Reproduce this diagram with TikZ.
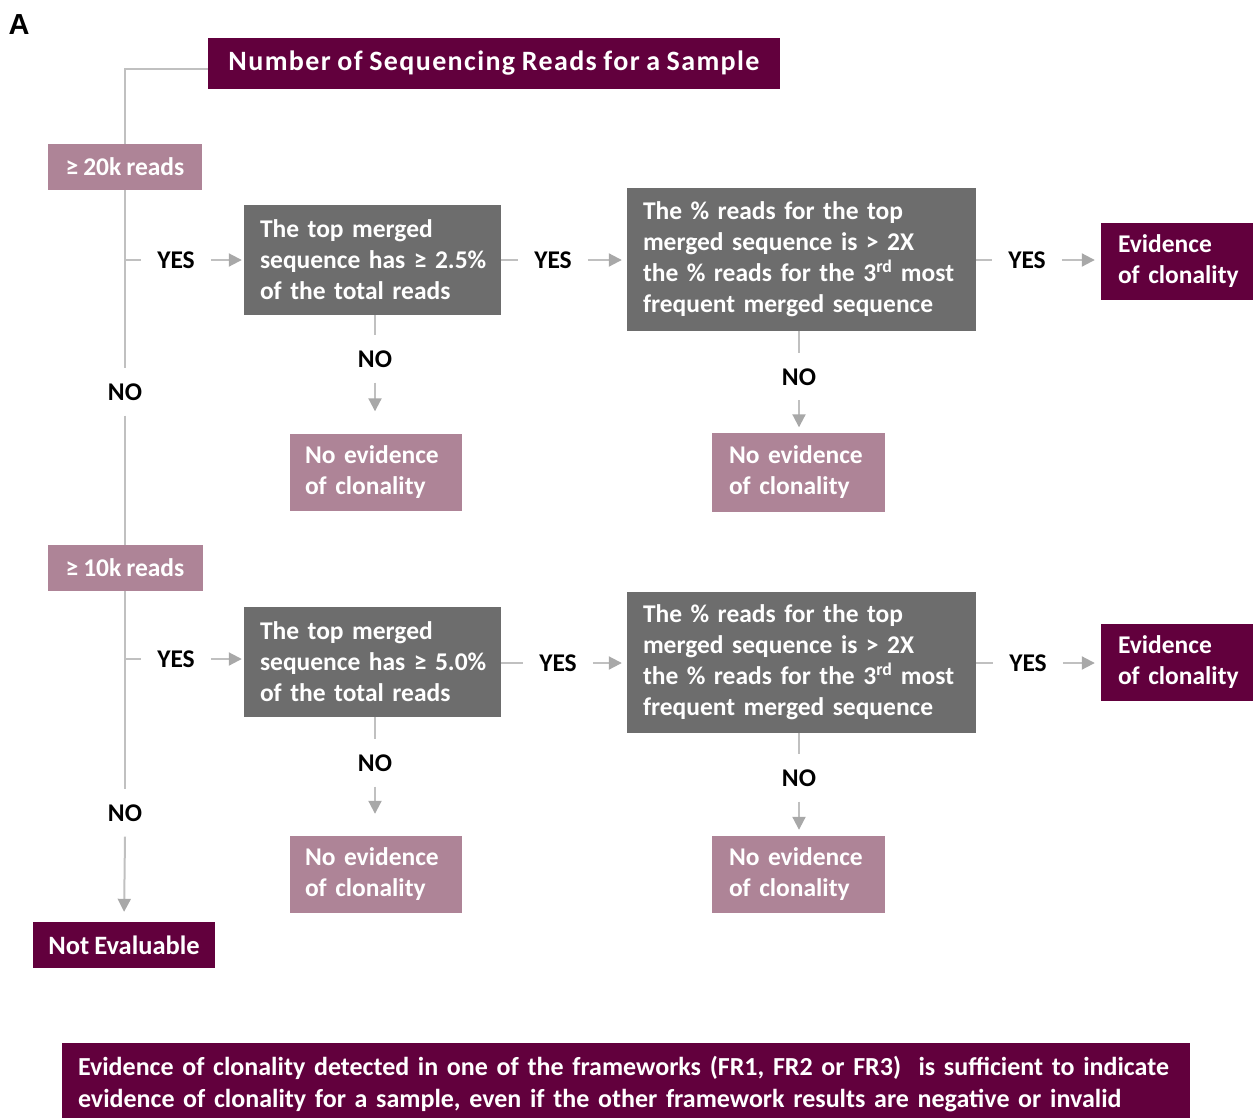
\documentclass[tikz,border=0pt]{standalone}
\usepackage{fontspec}
\setmainfont{Carlito}[WordSpace=0.85]
\newfontfamily\titlefont{Carlito}[LetterSpace=5, WordSpace=0.85]
\newfontfamily\panelfont{Liberation Sans}
\usetikzlibrary{arrows.meta}

% keep a line of box text together
\newcommand\oneline[1]{\mbox{#1}}

\definecolor{plum}{HTML}{62003D}
\definecolor{mauve}{HTML}{AE8497}
\definecolor{slate}{HTML}{6D6D6D}
\definecolor{wire}{HTML}{C0C0C0}
\definecolor{tipgray}{HTML}{A8A8A8}

\tikzset{
  boxtext/.style={font=\bfseries\fontsize{25.5}{31}\selectfont, text=white},
  plumbox/.style={boxtext, fill=plum, inner ysep=0pt},
  mauvebox/.style={boxtext, fill=mauve, inner ysep=0pt},
  slatebox/.style={boxtext, fill=slate, inner ysep=0pt},
  leftbox/.style n args={3}{minimum width=#1pt, minimum height=#2pt,
    inner xsep=#3pt, text width=#1pt-2*#3pt, align=left},
  lbl/.style={font=\bfseries\fontsize{25.5}{25.5}\selectfont, text=black,
    text height=17pt, text depth=0pt},
  yeslbl/.style={lbl, inner xsep=16pt, inner ysep=0pt},
  nolbl/.style={lbl, inner xsep=0pt, inner ysep=15pt},
  conn/.style={draw=wire, line width=2pt},
  arr/.style={conn, -{Triangle[length=13pt, width=13pt, color=tipgray, fill=tipgray]}},
}

\begin{document}
\begin{tikzpicture}[x=1pt, y=-1pt]
\useasboundingbox (0,0) rectangle (1256,1117);

% panel letter
\node[font=\panelfont\bfseries\fontsize{29}{29}\selectfont, inner sep=0pt] (panel) at (19,25) {A};

% title
\node[plumbox, font=\titlefont\bfseries\fontsize{28}{28}\selectfont, minimum width=572pt, minimum height=51pt]
  (title) at (494,63.5) {Number of Sequencing Reads for a Sample};

% read-depth thresholds and the final outcome on the left
\node[mauvebox, minimum width=154pt, minimum height=46pt] (r20) at (125,167) {≥ 20k reads};
\node[mauvebox, minimum width=155pt, minimum height=46pt] (r10) at (125,568) {≥ 10k reads};
\node[plumbox, font=\bfseries\fontsize{26.5}{26.5}\selectfont, minimum width=182pt, minimum height=46pt] (ne) at (124,945) {Not Evaluable};

% ---------------- first tier (>= 20k reads) ----------------
\node[slatebox, leftbox={257}{110}{16}] (a1) at (372.5,260)
  {\oneline{The top merged}\\ \oneline{sequence has ≥ 2.5\%}\\ \oneline{of the total reads}};
\node[slatebox, leftbox={349}{143}{16}] (a2) at (801.5,259.5)
  {\oneline{The \% reads for the top}\\ \oneline{merged sequence is > 2X}\\
   \oneline{the \% reads for the 3\textsuperscript{rd} most}\\ \oneline{frequent merged sequence}};
\node[plumbox, leftbox={152}{77}{17}] (a3) at (1177,261) {\oneline{Evidence}\\ \oneline{of clonality}};
\node[mauvebox, leftbox={172}{77}{15}] (a4) at (376,472) {\oneline{No evidence}\\ \oneline{of clonality}};
\node[mauvebox, leftbox={173}{79}{17}] (a5) at (798.5,472) {\oneline{No evidence}\\ \oneline{of clonality}};

\node[yeslbl] (ya1) at (176,260) {YES};
\node[yeslbl] (ya2) at (553,260) {YES};
\node[yeslbl] (ya3) at (1027,260) {YES};
\node[nolbl] (na1) at (375,359) {NO};
\node[nolbl] (na2) at (799,376.5) {NO};
\node[nolbl] (nl1) at (125,392) {NO};

% ---------------- second tier (>= 10k reads) ----------------
\node[slatebox, leftbox={257}{110}{16}] (b1) at (372.5,662)
  {\oneline{The top merged}\\ \oneline{sequence has ≥ 5.0\%}\\ \oneline{of the total reads}};
\node[slatebox, leftbox={349}{141}{16}] (b2) at (801.5,662.5)
  {\oneline{The \% reads for the top}\\ \oneline{merged sequence is > 2X}\\
   \oneline{the \% reads for the 3\textsuperscript{rd} most}\\ \oneline{frequent merged sequence}};
\node[plumbox, leftbox={152}{77}{17}] (b3) at (1177,662.5) {\oneline{Evidence}\\ \oneline{of clonality}};
\node[mauvebox, leftbox={172}{77}{15}] (b4) at (376,874.5) {\oneline{No evidence}\\ \oneline{of clonality}};
\node[mauvebox, leftbox={173}{77}{17}] (b5) at (798.5,874.5) {\oneline{No evidence}\\ \oneline{of clonality}};

\node[yeslbl] (yb1) at (176,659) {YES};
\node[yeslbl] (yb2) at (558,663) {YES};
\node[yeslbl] (yb3) at (1028,663) {YES};
\node[nolbl] (nb1) at (375,763) {NO};
\node[nolbl] (nb2) at (799,778) {NO};
\node[nolbl] (nl2) at (125,813) {NO};

% branch points on the main trunk
\coordinate (ja) at (125,260);
\coordinate (jb) at (125,659);

% main trunk
\draw[conn] ([yshift=-5pt]title.west) -| (r20.north);
\draw[conn] (r20.south) -- (nl1.north);
\draw[conn] (nl1.south) -- (r10.north);
\draw[conn] (r10.south) -- (nl2.north);
\draw[arr, shorten >=10pt] (nl2.south) -- (ne.north);

% first tier connectors
\draw[conn] (ja) -- (ya1.west);
\draw[arr, shorten >=2pt] (ya1.east) -- (ya1.east -| a1.west);
\draw[conn] (a1.east |- ya2) -- (ya2.west);
\draw[arr, shorten >=5pt] (ya2.east) -- (ya2.east -| a2.west);
\draw[conn] (a2.east |- ya3) -- (ya3.west);
\draw[arr, shorten >=6pt] (ya3.east) -- (ya3.east -| a3.west);
\draw[conn] (a1.south -| na1) -- (na1.north);
\draw[arr, shorten >=22pt] (na1.south) -- (na1.south |- a4.north);
\draw[conn] (a2.south -| na2) -- (na2.north);
\draw[arr, shorten >=5pt] (na2.south) -- (na2.south |- a5.north);

% second tier connectors
\draw[conn] (jb) -- (yb1.west);
\draw[arr, shorten >=2pt] (yb1.east) -- (yb1.east -| b1.west);
\draw[conn] (b1.east |- yb2) -- (yb2.west);
\draw[arr, shorten >=5pt] (yb2.east) -- (yb2.east -| b2.west);
\draw[conn] (b2.east |- yb3) -- (yb3.west);
\draw[arr, shorten >=6pt] (yb3.east) -- (yb3.east -| b3.west);
\draw[conn] (b1.south -| nb1) -- (nb1.north);
\draw[arr, shorten >=22pt] (nb1.south) -- (nb1.south |- b4.north);
\draw[conn] (b2.south -| nb2) -- (nb2.north);
\draw[arr, shorten >=6pt] (nb2.south) -- (nb2.south |- b5.north);

% footnote banner
\node[plumbox, font=\bfseries\fontsize{26}{32}\selectfont, leftbox={1128}{82}{16}] (note) at (626,1084)
  {\oneline{Evidence of clonality detected in one of the frameworks (FR1, FR2 or FR3)\ \ is sufficient to indicate}\\
   \oneline{evidence of clonality for a sample, even if the other framework results are negative or invalid}};
\end{tikzpicture}
\end{document}
